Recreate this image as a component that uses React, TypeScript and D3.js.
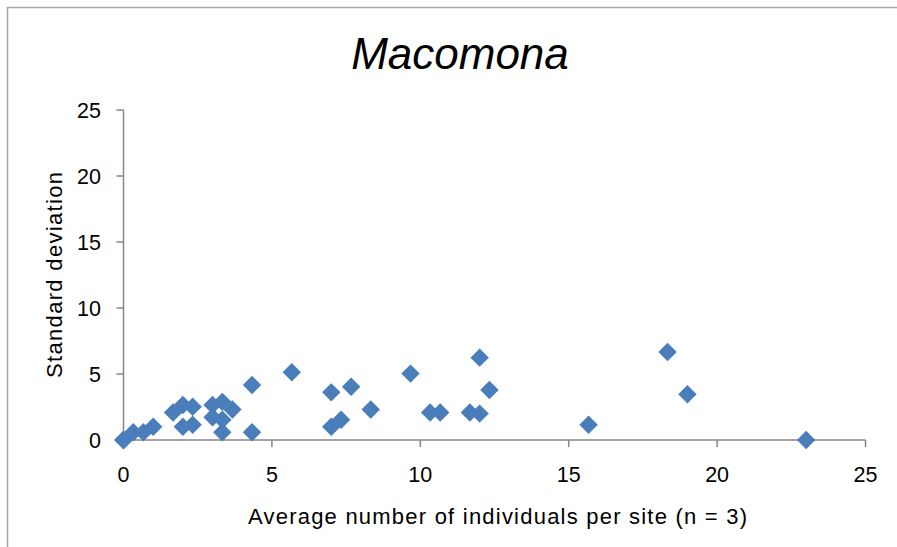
import React from "react";
import * as d3 from "d3";

const titleText = "Macomona";
const xAxisTitle = "Average number of individuals per site (n = 3)";
const yAxisTitle = "Standard deviation";
const xTicks = [0, 5, 10, 15, 20, 25];
const yTicks = [0, 5, 10, 15, 20, 25];

const xValues = [
  0, 0, 0, 0.33, 0.67, 1.0, 1.67, 2.0, 2.33, 2.0, 2.33, 3.0, 3.33, 3.67, 3.0,
  3.33, 3.33, 4.33, 4.33, 5.67, 7.0, 7.67, 7.0, 7.33, 8.33, 9.67, 10.33, 10.67,
  11.67, 12.0, 12.0, 12.33, 15.67, 18.33, 19.0, 23.0,
];
const yValues = [
  0, 0, 0, 0.58, 0.58, 1.0, 2.08, 2.65, 2.52, 1.0, 1.15, 2.65, 2.89, 2.31, 1.73,
  1.53, 0.58, 4.16, 0.58, 5.13, 3.61, 4.04, 1.0, 1.53, 2.31, 5.03, 2.08, 2.08,
  2.08, 2.0, 6.24, 3.79, 1.15, 6.66, 3.46, 0.0,
];

const W = 897;
const H = 547;
const FONT = "'Liberation Sans', Arial, sans-serif";
const AXIS = "#868686";
const MARK = "#4A7EBB";

export default function App() {
  const x = d3.scaleLinear().domain([0, 25]).range([123.5, 865.5]);
  const y = d3.scaleLinear().domain([0, 25]).range([440, 110]);
  const diamond = d3.symbol(d3.symbolSquare, 170)();
  const points = xValues.map((v, i) => ({ x: v, y: yValues[i] }));

  return (
    <svg
      width={W}
      height={H}
      style={{ position: "absolute", left: 0, top: 0, display: "block", background: "#fff" }}
    >
      <rect x={0} y={0} width={W} height={H} fill="#fff" />
      <rect x={7.5} y={7.5} width={960} height={640} fill="none" stroke="#a6a6a6" strokeWidth={1.5} />
      <text
        x={460}
        y={69}
        textAnchor="middle"
        fontFamily={FONT}
        fontStyle="italic"
        fontSize={44}
        fill="#000"
      >
        {titleText}
      </text>

      {/* Y axis */}
      <line x1={x(0)} x2={x(0)} y1={y(25)} y2={y(0)} stroke={AXIS} strokeWidth={1.5} />
      {yTicks.map((t) => (
        <g key={"y" + t}>
          <line x1={x(0) - 7} x2={x(0)} y1={y(t)} y2={y(t)} stroke={AXIS} strokeWidth={1.5} />
          <text
            x={101}
            y={y(t) + 7.5}
            textAnchor="end"
            fontFamily={FONT}
            fontSize={21.5}
            fill="#000"
          >
            {t}
          </text>
        </g>
      ))}

      {/* X axis */}
      <line x1={x(0)} x2={x(25)} y1={y(0)} y2={y(0)} stroke={AXIS} strokeWidth={1.5} />
      {xTicks.map((t) => (
        <g key={"x" + t}>
          <line x1={x(t)} x2={x(t)} y1={y(0)} y2={y(0) + 7} stroke={AXIS} strokeWidth={1.5} />
          <text
            x={x(t)}
            y={482}
            textAnchor="middle"
            fontFamily={FONT}
            fontSize={21.5}
            fill="#000"
          >
            {t}
          </text>
        </g>
      ))}

      <text
        x={497.5}
        y={524}
        textAnchor="middle"
        fontFamily={FONT}
        fontSize={22}
        textLength={499}
        lengthAdjust="spacing"
        fill="#000"
      >
        {xAxisTitle}
      </text>
      <text
        transform={`translate(62,275) rotate(-90)`}
        textAnchor="middle"
        fontFamily={FONT}
        fontSize={22}
        textLength={206}
        lengthAdjust="spacing"
        fill="#000"
      >
        {yAxisTitle}
      </text>

      {points.map((p, i) => (
        <path
          key={i}
          d={diamond || ""}
          transform={`translate(${x(p.x)},${y(p.y)}) rotate(45)`}
          fill={MARK}
        />
      ))}
    </svg>
  );
}
